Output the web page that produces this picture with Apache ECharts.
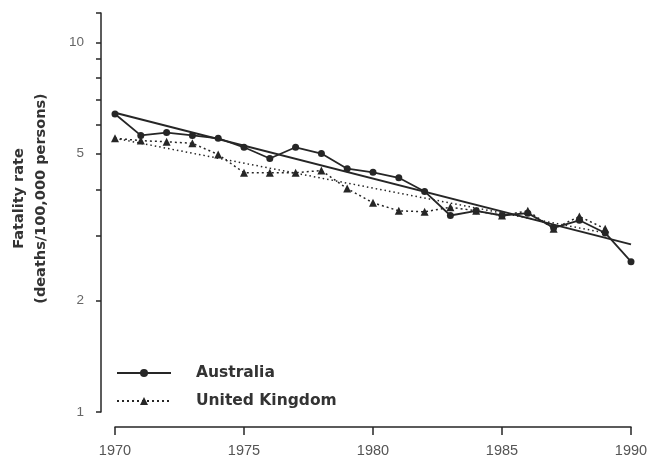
<!DOCTYPE html>
<html>
<head>
<meta charset="utf-8">
<script src="https://cdn.jsdelivr.net/npm/echarts@6/dist/echarts.min.js"></script>
<style>
html,body{margin:0;padding:0;background:#fff;}
#chart{width:654px;height:459px;}
</style>
</head>
<body>
<div id="chart"></div>
<script>
// ---- data ----
var years = [1970,1971,1972,1973,1974,1975,1976,1977,1978,1979,1980,1981,1982,1983,1984,1985,1986,1987,1988,1989,1990];
var australia = [6.4,5.6,5.7,5.6,5.5,5.2,4.85,5.2,5.0,4.55,4.45,4.3,3.95,3.4,3.5,3.4,3.45,3.15,3.3,3.05,2.55];
var unitedKingdom = [5.5,5.42,5.38,5.33,4.97,4.44,4.44,4.44,4.5,4.02,3.68,3.5,3.48,3.58,3.5,3.4,3.5,3.13,3.38,3.13];
var australiaTrendYears = [1970,1990];
var australiaTrend = [6.45,2.84];
var ukTrendYears = [1970,1989];
var ukTrend = [5.5,3.05];
var yLabelValues = [1,2,5,10];
var yTickValues = [1,2,3,4,5,6,7,8,9,10,12];

function pairs(xs, ys){ return ys.map(function(v,i){ return [xs[i], v]; }); }

var ink = '#262626';
var chart = echarts.init(document.getElementById('chart'), null, {renderer:'canvas'});
chart.setOption({
  animation:false,
  backgroundColor:'#ffffff',
  grid:{left:114, right:23, top:13, bottom:47},
  legend:{
    data:['Australia','United Kingdom'],
    orient:'vertical', left:111, top:360,
    itemWidth:54, itemHeight:10, itemGap:12,
    textStyle:{fontFamily:'DejaVu Sans, sans-serif', fontWeight:'bold', fontSize:15.5, color:'#333', padding:[0,0,0,20]}
  },
  xAxis:{
    type:'value', min:1970, max:1990, interval:5, offset:15,
    axisLine:{show:true, lineStyle:{color:ink, width:1.5}},
    axisTick:{show:true, length:8, lineStyle:{color:ink, width:1.5}},
    axisLabel:{margin:16, fontSize:14.5, color:'#555', fontFamily:'Liberation Sans, Arial, sans-serif', formatter:function(v){return String(v);} },
    splitLine:{show:false}
  },
  yAxis:{
    type:'log', logBase:10, min:1, max:12, offset:14,
    name:'Fatality rate\n(deaths/100,000 persons)',
    nameLocation:'middle', nameRotate:90, nameGap:49,
    nameTextStyle:{fontFamily:'DejaVu Sans, sans-serif', fontWeight:'bold', fontSize:14.5, color:'#333', lineHeight:22, padding:[0,0,0,28]},
    axisLine:{show:true, lineStyle:{color:ink, width:1.5}},
    axisTick:{show:true, length:5, customValues:yTickValues, lineStyle:{color:ink, width:1.5}},
    axisLabel:{customValues:yLabelValues, margin:17, fontSize:13.5, color:'#666', fontFamily:'Liberation Sans, Arial, sans-serif'},
    splitLine:{show:false}
  },
  series:[
    {name:'Australia', type:'line', data:pairs(years, australia), symbol:'circle', symbolSize:7,
     lineStyle:{color:ink, width:1.8}, itemStyle:{color:ink}},
    {name:'United Kingdom', type:'line', data:pairs(years, unitedKingdom), symbol:'triangle', symbolSize:8,
     lineStyle:{color:ink, width:1.5, type:[2,3]}, itemStyle:{color:ink}},
    {name:'Australia trend', type:'line', data:pairs(australiaTrendYears, australiaTrend), symbol:'none',
     lineStyle:{color:ink, width:2}},
    {name:'UK trend', type:'line', data:pairs(ukTrendYears, ukTrend), symbol:'none',
     lineStyle:{color:ink, width:1.5, type:[1.5,3]}}
  ]
});
</script>
</body>
</html>
